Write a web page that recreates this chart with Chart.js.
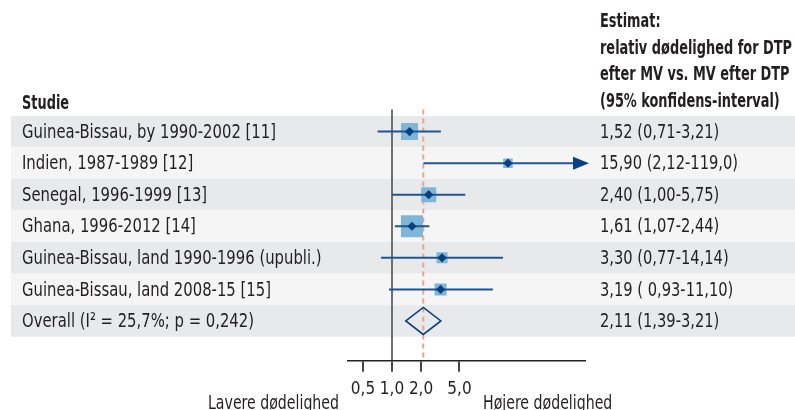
<!DOCTYPE html>
<html>
<head>
<meta charset="utf-8">
<script src="https://cdn.jsdelivr.net/npm/chart.js@4"></script>
<style>
  html, body { margin: 0; padding: 0; background: #fff; }
  #wrap { width: 795px; height: 410px; position: relative; }
</style>
</head>
<body>
<div id="wrap"><canvas id="forestChart"></canvas></div>
<script>
// studier og estimater (relativ dødelighed, 95% KI)
const studies = [
    'Guinea-Bissau, by 1990-2002 [11]',
    'Indien, 1987-1989 [12]',
    'Senegal, 1996-1999 [13]',
    'Ghana, 1996-2012 [14]',
    'Guinea-Bissau, land 1990-1996 (upubli.)',
    'Guinea-Bissau, land 2008-15 [15]'
];
const estimates = [1.52, 15.90, 2.40, 1.61, 3.30, 3.19];
const lows = [0.71, 2.12, 1.00, 1.07, 0.77, 0.93];
const highs = [3.21, 119.0, 5.75, 2.44, 14.14, 11.10];
const studyWeights = [17, 9.5, 15, 22, 11, 12];   // vægt -> størrelse af kasse

const overallLabel = 'Overall (I\u00b2 = 25,7%; p = 0,242)';
const overallEst = 2.11;
const overallLow = 1.39;
const overallHigh = 3.21;

const estimateLabels = [
    '1,52 (0,71-3,21)',
    '15,90 (2,12-119,0)',
    '2,40 (1,00-5,75)',
    '1,61 (1,07-2,44)',
    '3,30 (0,77-14,14)',
    '3,19 ( 0,93-11,10)',
    '2,11 (1,39-3,21)'
];

const tickValues = [0.5, 1, 2, 5];
const tickLabels = ['0,5', '1,0', '2,0', '5,0'];

const headerLeft = 'Studie';
const headerRight = ['Estimat:', 'relativ dødelighed for DTP', 'efter MV vs. MV efter DTP', '(95% konfidens-interval)'];
const lowerLabel = 'Lavere dødelighed';
const higherLabel = 'Højere dødelighed';

const FONT = '"DejaVu Sans Condensed", "Liberation Sans Narrow", sans-serif';
const TEXT = '#231f20';
const LINE_BLUE = '#1f5592';
const MARK_BLUE = '#0a3f80';
const BOX_BLUE = '#7db6d6';

// smal skrift: tegnes vandret sammenpresset
function narrowText(ctx, str, x, y, sx) {
    ctx.save();
    ctx.translate(x, y);
    ctx.scale(sx, 1);
    ctx.fillText(str, 0, 0);
    ctx.restore();
}

// baggrund, tekst, KI-linjer osv.
const forestPlugin = {
    id: 'forest',
    beforeDraw(chart) {
        const ctx = chart.ctx;
        const y = chart.scales.y;
        const rows = studies.length + 1;
        ctx.save();
        for (let i = 0; i < rows; i++) {
            const top = y.getPixelForValue(i - 0.5);
            const bottom = y.getPixelForValue(i + 0.5);
            ctx.fillStyle = i % 2 === 0 ? '#e8e9eb' : '#f5f5f6';
            ctx.fillRect(11, top, 795 - 11, bottom - top);
        }

        ctx.fillStyle = TEXT;
        ctx.textBaseline = 'middle';
        ctx.textAlign = 'left';

        ctx.font = '20px ' + FONT;
        const sx = 254 / ctx.measureText(studies[0]).width;
        const ex = 138 / ctx.measureText(estimateLabels[1]).width;
        const lx = 131 / ctx.measureText(lowerLabel).width;

        // venstre kolonne
        studies.forEach((s, i) => narrowText(ctx, s, 22, y.getPixelForValue(i) + 1, sx));
        narrowText(ctx, overallLabel, 22, y.getPixelForValue(studies.length) + 1, sx);

        // højre kolonne
        estimateLabels.forEach((s, i) => narrowText(ctx, s, 600, y.getPixelForValue(i) + 1, ex));

        // under aksen
        narrowText(ctx, lowerLabel, 208, 404, lx);
        narrowText(ctx, higherLabel, 483, 404, lx);

        // overskrifter
        ctx.font = 'bold 20px ' + FONT;
        const bx = 192 / ctx.measureText(headerRight[1]).width;
        narrowText(ctx, headerLeft, 22, 104, bx);
        headerRight.forEach((s, i) => narrowText(ctx, s, 600, 22 + i * 26.6, bx));
        ctx.restore();
    },
    beforeDatasetsDraw(chart) {
        const ctx = chart.ctx;
        const x = chart.scales.x;
        const area = chart.chartArea;
        const px = x.getPixelForValue(overallEst);
        ctx.save();
        ctx.strokeStyle = '#eaa48d';
        ctx.lineWidth = 2;
        ctx.setLineDash([5, 4]);
        ctx.beginPath();
        ctx.moveTo(px, area.top);
        ctx.lineTo(px, area.bottom);
        ctx.stroke();
        ctx.restore();
    },
    afterDatasetDraw(chart, args) {
        if (args.index !== 0) return;
        const ctx = chart.ctx;
        const x = chart.scales.x;
        const y = chart.scales.y;
        const area = chart.chartArea;
        ctx.save();
        ctx.strokeStyle = LINE_BLUE;
        ctx.lineWidth = 2;
        studies.forEach((s, i) => {
            const py = y.getPixelForValue(i);
            const x0 = x.getPixelForValue(lows[i]);
            const clipped = highs[i] > x.max;
            const x1 = clipped ? area.right - 10 : x.getPixelForValue(highs[i]);
            ctx.beginPath();
            ctx.moveTo(x0, py);
            ctx.lineTo(x1, py);
            ctx.stroke();
            if (clipped) {
                ctx.fillStyle = MARK_BLUE;
                ctx.beginPath();
                ctx.moveTo(area.right - 12, py - 6.5);
                ctx.lineTo(area.right + 4, py);
                ctx.lineTo(area.right - 12, py + 6.5);
                ctx.closePath();
                ctx.fill();
            }
        });

        // samlet estimat som diamant
        const oy = y.getPixelForValue(studies.length);
        const h = 13.5;
        ctx.strokeStyle = MARK_BLUE;
        ctx.lineWidth = 1.6;
        ctx.beginPath();
        ctx.moveTo(x.getPixelForValue(overallLow), oy);
        ctx.lineTo(x.getPixelForValue(overallEst), oy - h);
        ctx.lineTo(x.getPixelForValue(overallHigh), oy);
        ctx.lineTo(x.getPixelForValue(overallEst), oy + h);
        ctx.closePath();
        ctx.stroke();
        ctx.restore();
    }
};

const points = estimates.map((v, i) => ({ x: v, y: i }));

const ctx = document.getElementById('forestChart').getContext('2d');
window.forestChart = new Chart(ctx, {
    type: 'scatter',
    data: {
        datasets: [
            {
                label: 'vægt',
                data: points,
                order: 1,
                pointStyle: 'rect',
                pointRadius: studyWeights.map(w => w / Math.SQRT2),
                pointHoverRadius: studyWeights.map(w => w / Math.SQRT2),
                backgroundColor: BOX_BLUE,
                borderWidth: 0
            },
            {
                label: 'estimat',
                data: estimates.map((v, i) => ({ x: v, y: i })),
                order: 0,
                pointStyle: 'rectRot',
                pointRadius: 4.6,
                pointHoverRadius: 4.6,
                backgroundColor: MARK_BLUE,
                borderWidth: 0
            }
        ]
    },
    options: {
        responsive: true,
        maintainAspectRatio: false,
        animation: false,
        events: [],
        layout: {
            padding: { left: 348, right: 210, top: 109.5, bottom: 0 }
        },
        plugins: {
            legend: { display: false },
            tooltip: { enabled: false }
        },
        scales: {
            x: {
                type: 'logarithmic',
                min: 0.35,
                max: 100,
                afterBuildTicks: scale => {
                    scale.ticks = tickValues.map(v => ({ value: v }));
                },
                afterFit: scale => {
                    scale.height = 410 - 360.7;
                },
                ticks: {
                    autoSkip: false,
                    maxRotation: 0,
                    padding: 8,
                    color: TEXT,
                    font: { family: FONT, size: 17 },
                    callback: (value, index) => tickLabels[index]
                },
                grid: {
                    drawOnChartArea: true,
                    color: c => (c.tick && c.tick.value === 1 ? '#707070' : 'rgba(0,0,0,0)'),
                    lineWidth: 2,
                    tickColor: '#444',
                    tickLength: 11
                },
                border: { display: true, color: '#222', width: 1.5 }
            },
            y: {
                display: false,
                reverse: true,
                min: -0.7,
                max: 7.26
            }
        }
    },
    plugins: [forestPlugin]
});
</script>
</body>
</html>
